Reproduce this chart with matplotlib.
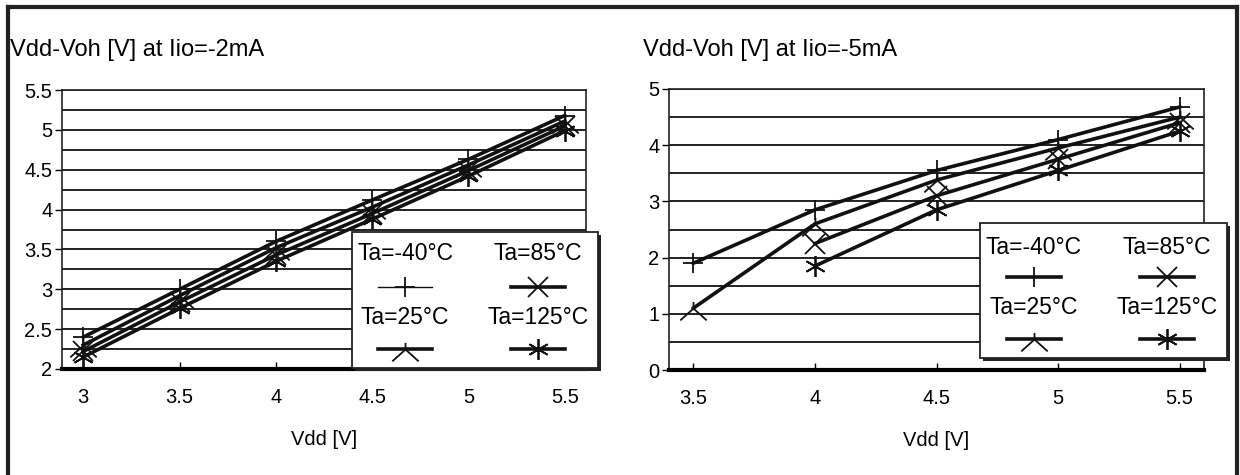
import numpy as np
import matplotlib
matplotlib.use("Agg")
import matplotlib.pyplot as plt
from matplotlib.lines import Line2D
from matplotlib.patches import Rectangle
from matplotlib.path import Path
from matplotlib.ticker import MultipleLocator, FormatStrFormatter

plt.rcParams['font.family'] = ['Liberation Sans', 'DejaVu Sans']

# data
vdd_2ma = [3.0, 3.5, 4.0, 4.5, 5.0, 5.5]
m40_2ma = [2.40, 3.00, 3.60, 4.12, 4.63, 5.18]
p25_2ma = [2.30, 2.92, 3.52, 4.03, 4.56, 5.11]
p85_2ma = [2.22, 2.84, 3.43, 3.95, 4.49, 5.05]
p125_2ma = [2.15, 2.76, 3.35, 3.88, 4.42, 4.99]

vdd_5ma = [3.5, 4.0, 4.5, 5.0, 5.5]
m40_5ma = [1.90, 2.85, 3.55, 4.10, 4.68]
p25_5ma = [1.10, 2.60, 3.38, 3.95, 4.50]
p85_5ma = [np.nan, 2.25, 3.10, 3.75, 4.40]
p125_5ma = [np.nan, 1.85, 2.85, 3.55, 4.25]

labels = ["Ta=-40°C", "Ta=25°C", "Ta=85°C", "Ta=125°C"]

# tent-shaped marker for 25°C
tent = Path([(0, 0), (0, 0.5), (0, 0), (-1, -0.9), (0, 0), (1, -0.9)],
            [Path.MOVETO, Path.LINETO, Path.MOVETO, Path.LINETO, Path.MOVETO, Path.LINETO])
markers = ['+', tent, 'x', (6, 2, 0)]
msizes = [15, 19, 15, 15]

W, H = 1240, 475
fig = plt.figure(figsize=(W / 100, H / 100), dpi=100)

def fx(px):
    return px / W

def fy(py):
    return 1 - py / H

def setup(ax, ylim, xlim, major, minor):
    ax.set_ylim(*ylim)
    ax.set_xlim(*xlim)
    ax.yaxis.set_major_locator(MultipleLocator(major))
    ax.yaxis.set_minor_locator(MultipleLocator(minor))
    ax.xaxis.set_major_locator(MultipleLocator(0.5))
    ax.xaxis.set_major_formatter(FormatStrFormatter('%g'))
    ax.yaxis.set_major_formatter(FormatStrFormatter('%g'))
    ax.grid(True, axis='y', which='both', color='#222222', lw=1.4)
    ax.set_axisbelow(True)
    for s in ['left', 'right', 'top']:
        ax.spines[s].set_linewidth(1.2)
        ax.spines[s].set_color('#222222')
    ax.spines['bottom'].set_linewidth(3)
    ax.tick_params(axis='y', which='major', direction='out', length=5, width=1, labelsize=14.5, pad=2)
    ax.tick_params(axis='y', which='minor', length=0)
    ax.tick_params(axis='x', direction='in', length=5, width=1, labelsize=14.5, pad=14)
    ax.set_xlabel("Vdd [V]", fontsize=14.5, labelpad=16)

def draw(ax, x, series):
    for y, m, ms in zip(series, markers, msizes):
        ax.plot(x, y, color='#111111', lw=2.6, marker=m, markersize=ms,
                markeredgewidth=1.3, markeredgecolor='#111111', clip_on=False)

def legend_box(x0, y0, x1, y1, cols, rows_text, rows_line, thin_first=False):
    shadow = Rectangle((fx(x0 + 3), fy(y1 + 3)), fx(x1 - x0), fy(y0) - fy(y1),
                       transform=fig.transFigure, facecolor='#222222', edgecolor='none', zorder=5)
    box = Rectangle((fx(x0), fy(y1)), fx(x1 - x0), fy(y0) - fy(y1),
                    transform=fig.transFigure, facecolor='white', edgecolor='#222222', lw=1.3, zorder=6)
    fig.patches.extend([shadow, box])
    order = [[0, 2], [1, 3]]
    for r in range(2):
        for c in range(2):
            i = order[r][c]
            fig.text(fx(cols[c]), fy(rows_text[r]), labels[i], ha='center', va='center',
                     fontsize=16.5, zorder=7)
            lw = 1.0 if (thin_first and i == 0) else 2.6
            fig.lines.append(Line2D([fx(cols[c] - 27), fx(cols[c] + 27)], [fy(rows_line[r])] * 2,
                                    transform=fig.transFigure, color='#111111', lw=lw, zorder=7))
            fig.lines.append(Line2D([fx(cols[c])], [fy(rows_line[r])], transform=fig.transFigure,
                                    marker=markers[i], markersize=msizes[i], markeredgewidth=1.3,
                                    color='#111111', zorder=8))

# left chart
ax1 = fig.add_axes([fx(62), fy(369), fx(586 - 62), fy(90) - fy(369)])
setup(ax1, (2, 5.5), (2.89, 5.61), 0.5, 0.25)
draw(ax1, vdd_2ma, [m40_2ma, p25_2ma, p85_2ma, p125_2ma])
fig.text(fx(10), fy(50), "Vdd-Voh [V] at Iio=-2mA", fontsize=17, va='center', ha='left')

# right chart
ax2 = fig.add_axes([fx(669), fy(370), fx(1204 - 669), fy(89) - fy(370)])
setup(ax2, (0, 5), (3.40, 5.60), 1, 0.5)
draw(ax2, vdd_5ma, [m40_5ma, p25_5ma, p85_5ma, p125_5ma])
fig.text(fx(643), fy(50), "Vdd-Voh [V] at Iio=-5mA", fontsize=17, va='center', ha='left')

legend_box(352, 232, 598, 368, [405, 538], [254, 318], [287, 349], thin_first=True)
legend_box(980, 223, 1227, 358, [1034, 1167], [247, 308], [277, 339])

# outer frame, open at the bottom
frame = dict(transform=fig.transFigure, color='#222222', lw=3, zorder=10)
fig.lines.append(Line2D([fx(8), fx(8)], [fy(7), 0], **frame))
fig.lines.append(Line2D([fx(8), fx(1237)], [fy(7), fy(7)], **frame))
fig.lines.append(Line2D([fx(1237), fx(1237)], [fy(7), 0], **frame))

fig.savefig("out.png", dpi=100)
